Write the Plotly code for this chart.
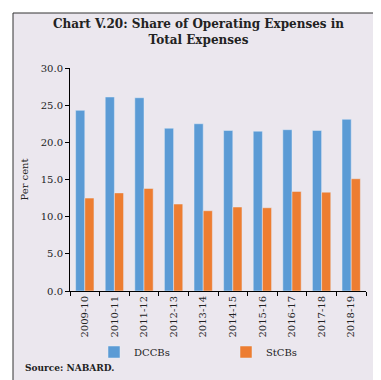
import plotly.graph_objects as go

years = ["2009-10", "2010-11", "2011-12", "2012-13", "2013-14",
         "2014-15", "2015-16", "2016-17", "2017-18", "2018-19"]
dccbs = [24.3, 26.1, 26.0, 21.9, 22.5, 21.6, 21.5, 21.7, 21.6, 23.1]
stcbs = [12.5, 13.2, 13.8, 11.7, 10.8, 11.3, 11.2, 13.4, 13.3, 15.1]

FONT = "DejaVu Serif"
BG = "#EBE7EE"

fig = go.Figure()
fig.add_trace(go.Bar(name="DCCBs", x=years, y=dccbs, marker_color="#5B9BD5"))
fig.add_trace(go.Bar(name="StCBs", x=years, y=stcbs, marker_color="#ED7D31"))

W, H = 381, 380
L, R, T, B = 62, 23, 60, 97
pw, ph = W - L - R, H - T - B

def px(xp):
    return (xp - L) / pw

def py(yp):
    return (H - B - yp) / ph

white_frame = [
    dict(type="rect", xref="paper", yref="paper", x0=px(0), x1=px(W), y0=py(373), y1=py(H),
         line=dict(width=0), fillcolor="white", layer="below"),
    dict(type="rect", xref="paper", yref="paper", x0=px(0), x1=px(W), y0=py(0), y1=py(5),
         line=dict(width=0), fillcolor="white", layer="below"),
    dict(type="rect", xref="paper", yref="paper", x0=px(0), x1=px(5), y0=py(H), y1=py(0),
         line=dict(width=0), fillcolor="white", layer="below"),
    dict(type="rect", xref="paper", yref="paper", x0=px(373), x1=px(W), y0=py(H), y1=py(0),
         line=dict(width=0), fillcolor="white", layer="below"),
]

fig.update_layout(
    width=W, height=H,
    margin=dict(l=L, r=R, t=T, b=B),
    paper_bgcolor=BG,
    plot_bgcolor="rgba(0,0,0,0)",
    barmode="group", bargap=0.38, bargroupgap=0,
    font=dict(family=FONT, size=10, color="#222"),
    title=dict(text="<b>Chart V.20: Share of Operating Expenses in<br>Total Expenses</b>",
               x=0.5, xanchor="center", y=1 - 20 / H, yanchor="middle",
               font=dict(family=FONT, size=12, color="#222")),
    showlegend=True,
    legend=dict(orientation="h", x=px(86), xanchor="left", y=py(344), yanchor="middle",
                bgcolor="rgba(0,0,0,0)", font=dict(family=FONT, size=10),
                entrywidth=87, entrywidthmode="pixels",
                itemwidth=30, tracegroupgap=0),
    xaxis=dict(type="category", showline=True, linecolor="black", linewidth=1,
               ticks="outside", ticklen=4, tickcolor="black",
               tickson="boundaries", tickangle=-90, showgrid=False,
               tickfont=dict(family=FONT, size=10)),
    yaxis=dict(range=[0, 30], dtick=5, tickformat=".1f",
               showline=True, linecolor="black", linewidth=1,
               ticks="outside", ticklen=4, tickcolor="black",
               showgrid=False, zeroline=False,
               title=dict(text="Per cent", font=dict(family=FONT, size=10), standoff=10),
               tickfont=dict(family=FONT, size=10)),
    shapes=white_frame + [dict(type="rect", xref="paper", yref="paper",
                 x0=px(5), x1=px(373), y0=py(373), y1=py(5),
                 line=dict(color="#333", width=1), fillcolor="rgba(0,0,0,0)", layer="below")],
    annotations=[dict(text="<b>Source: NABARD.</b>", xref="paper", yref="paper",
                      x=px(15), y=py(360), xanchor="left", yanchor="middle",
                      showarrow=False, font=dict(family=FONT, size=9, color="#222"))],
)

fig.write_html("out.html")
